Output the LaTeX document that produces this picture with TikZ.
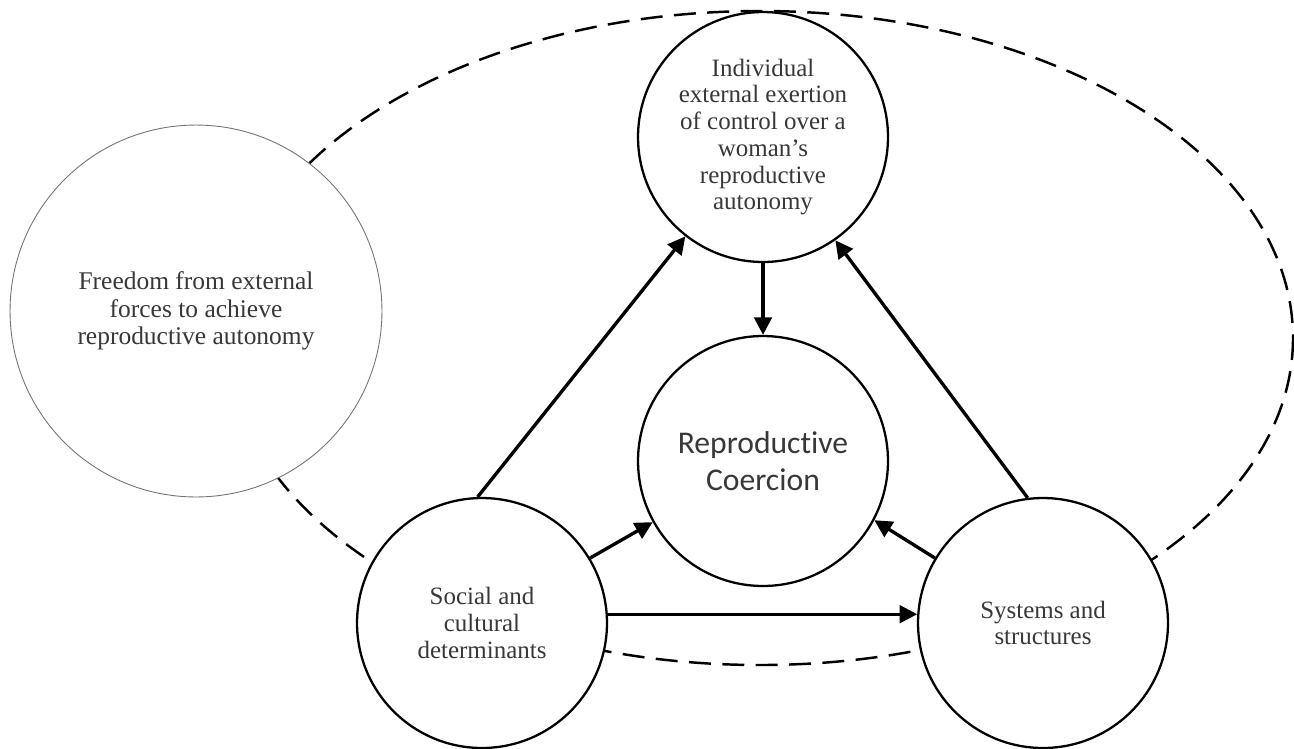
\documentclass[tikz,border=0pt]{standalone}
\usepackage{fontspec}
\setmainfont{Liberation Serif}
\newfontfamily\calibrifont[Ligatures=NoCommon]{Carlito}
\usetikzlibrary{arrows.meta}

\tikzset{
  factor/.style={draw, circle, fill=white, line width=1.3pt, minimum size=5cm,
    inner sep=0pt, align=center, text=black!78,
    font=\fontsize{14.2}{15.2}\selectfont},
  link/.style={line width=1.9pt, -{Triangle[length=10pt, width=10pt]}}
}

\begin{document}
\begin{tikzpicture}[x=0.02cm, y=-0.02cm]
        \useasboundingbox (0,0) rectangle (1294,748);

        % outer dashed boundary
        \draw[dash pattern=on 12.5pt off 6.5pt, line width=1.4pt] (760,338) ellipse [x radius=533, y radius=327];

        \node[draw=black!55, line width=0.5pt, circle, fill=white, minimum size=7.44cm, inner sep=0pt,
              align=center, text=black!78, font=\fontsize{14.5}{15.7}\selectfont]
              (freedom) at (196,311) {Freedom from external\\forces to achieve\\reproductive autonomy};

        \node[factor] (indiv) at (763,137) {Individual\\external exertion\\of control over a\\woman's\\reproductive\\autonomy};
        \node[factor, font=\calibrifont\fontsize{18}{20.9}\selectfont] (coerc) at (763,461) {Reproductive\\Coercion};
        \node[factor] (social) at (482,623) {Social and\\cultural\\determinants};
        \node[factor] (systems) at (1043,623) {Systems and\\structures};

        \draw[link] (indiv.south) -- (coerc.north);
        \draw[link] (social.92) -- (indiv.232);
        \draw[link] (social.31) -- (coerc.209);
        \draw[link] (social.4) -- (systems.176);
        \draw[link] (systems.97) -- (indiv.305);
        \draw[link] (systems.149) -- (coerc.332);
    \end{tikzpicture}
\end{document}
